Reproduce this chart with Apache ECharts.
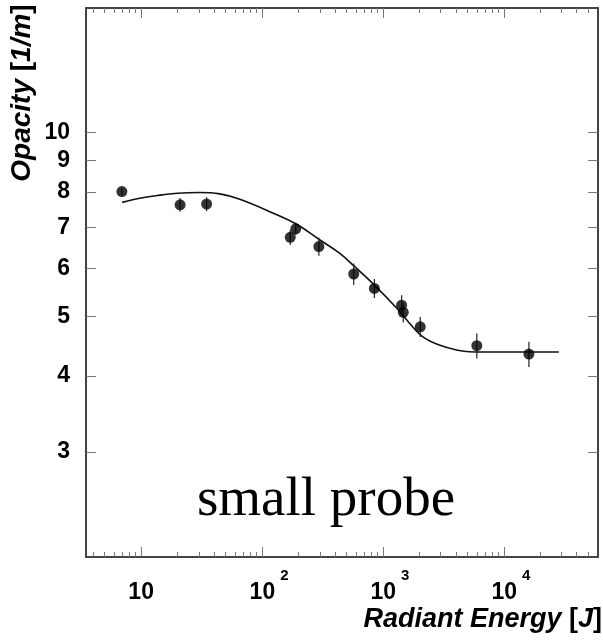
<!DOCTYPE html>
<html>
<head>
<meta charset="utf-8">
<script src="https://cdn.jsdelivr.net/npm/echarts@6/dist/echarts.min.js"></script>
<style>html,body{margin:0;padding:0;background:#fff}#c{width:603px;height:642px}</style>
</head>
<body>
<div id="c"></div>
<script>
// ---- data ----
const energy  = [6.93, 21.0, 34.8, 171, 190, 295, 573, 849, 1426, 1472, 2032, 5970, 16100];
const opacity = [8.01, 7.62, 7.64, 6.74, 6.96, 6.51, 5.87, 5.56, 5.22, 5.08, 4.81, 4.48, 4.34];
const opacityErr = [0.10, 0.20, 0.20, 0.19, 0.16, 0.22, 0.24, 0.20, 0.20, 0.19, 0.18, 0.21, 0.205];
const fitEnergy  = [6.97, 10, 14.9, 20, 30.1, 44.8, 65.5, 122.5, 193, 299, 437, 581, 849, 1290, 1651, 2112, 2917, 4265, 5155, 9111, 28470];
const fitOpacity = [7.69, 7.82, 7.91, 7.96, 7.98, 7.94, 7.78, 7.39, 7.08, 6.68, 6.35, 6.04, 5.63, 5.17, 4.88, 4.64, 4.49, 4.40, 4.38, 4.375, 4.375];
const xMajorTicks = [10, 100, 1000, 10000];
const xMinorTicks = [4,5,6,7,8,9, 20,30,40,50,60,70,80,90, 200,300,400,500,600,700,800,900,
                     2000,3000,4000,5000,6000,7000,8000,9000, 20000,30000,40000,50000];
const yTicks = [3, 4, 5, 6, 7, 8, 9, 10];
const xRange = [3.5, 60000];
const yRange = [2.02, 16];

const L = Math.log10;
const xMin = L(xRange[0]), xMax = L(xRange[1]);
const yMin = L(yRange[0]), yMax = L(yRange[1]);
const FONT = 'Liberation Sans';
const axisCol = '#444';
const tickCol = '#777';

function xAxisBase(extra) {
  return Object.assign({
    type: 'value', min: xMin, max: xMax, splitLine: {show: false},
    axisLine: {show: true, onZero: false, lineStyle: {color: axisCol, width: 2}},
    axisTick: {show: false}, axisLabel: {show: false}
  }, extra);
}
function yAxisBase(extra) {
  return Object.assign({
    type: 'value', min: yMin, max: yMax, splitLine: {show: false},
    axisLine: {show: true, onZero: false, lineStyle: {color: axisCol, width: 2}},
    axisTick: {show: false}, axisLabel: {show: false}
  }, extra);
}
const majX = xMajorTicks.map(L), minX = xMinorTicks.map(L), yT = yTicks.map(L);

const chart = echarts.init(document.getElementById('c'), null, {renderer: 'canvas'});
chart.setOption({
  animation: false,
  backgroundColor: '#fff',
  grid: {left: 86, right: 5, top: 8, bottom: 85, containLabel: false, outerBoundsMode: 'none'},
  xAxis: [
    xAxisBase({position: 'bottom', offset: 0,
      axisTick: {show: true, inside: true, length: 10, customValues: majX, lineStyle: {color: tickCol, width: 1}},
      axisLabel: {show: true, customValues: majX, margin: 11,
        formatter: function (v) {
          const e = Math.round(v);
          return e === 1 ? '{p|10}' : '{b|10}{s|' + e + '}';
        },
        rich: {
          p: {fontFamily: FONT, fontWeight: 'bold', fontSize: 23, color: '#000', lineHeight: 36, verticalAlign: 'bottom'},
          b: {fontFamily: FONT, fontWeight: 'bold', fontSize: 23, color: '#000', lineHeight: 36, verticalAlign: 'bottom', padding: [0, 0, 0, 14]},
          s: {fontFamily: FONT, fontWeight: 'bold', fontSize: 15, color: '#000', lineHeight: 15, verticalAlign: 'top', padding: [0, 0, 0, 5]}
        }
      }
    }),
    xAxisBase({position: 'bottom', offset: 0, axisLine: {show: false},
      axisTick: {show: true, inside: true, length: 5, customValues: minX, lineStyle: {color: tickCol, width: 1}}
    }),
    xAxisBase({position: 'top', offset: 0,
      axisTick: {show: true, inside: true, length: 10, customValues: majX, lineStyle: {color: tickCol, width: 1}}
    }),
    xAxisBase({position: 'top', offset: 0, axisLine: {show: false},
      axisTick: {show: true, inside: true, length: 5, customValues: minX, lineStyle: {color: tickCol, width: 1}}
    })
  ],
  yAxis: [
    yAxisBase({position: 'left', offset: 0,
      axisTick: {show: true, inside: true, length: 10, customValues: yT, lineStyle: {color: tickCol, width: 1}},
      axisLabel: {show: true, customValues: yT, margin: 16,
        fontFamily: FONT, fontWeight: 'bold', fontSize: 23, color: '#000',
        formatter: function (v) { return String(Math.round(Math.pow(10, v))); }
      }
    }),
    yAxisBase({position: 'right', offset: 0,
      axisTick: {show: true, inside: true, length: 10, customValues: yT, lineStyle: {color: tickCol, width: 1}}
    })
  ],
  series: [
    {
      type: 'line', xAxisIndex: 0, yAxisIndex: 0, smooth: 0.4, symbol: 'none',
      lineStyle: {color: '#111', width: 1.6},
      data: fitEnergy.map((e, i) => [L(e), L(fitOpacity[i])]),
      z: 2
    },
    {
      type: 'custom', xAxisIndex: 0, yAxisIndex: 0,
      data: energy.map((e, i) => [L(e), L(opacity[i] - opacityErr[i]), L(opacity[i] + opacityErr[i])]),
      renderItem: function (params, api) {
        const a = api.coord([api.value(0), api.value(1)]);
        const b = api.coord([api.value(0), api.value(2)]);
        return {type: 'line', shape: {x1: a[0], y1: a[1], x2: b[0], y2: b[1]},
                style: {stroke: '#222', lineWidth: 1.2}};
      },
      z: 3
    },
    {
      type: 'scatter', xAxisIndex: 0, yAxisIndex: 0, symbol: 'circle', symbolSize: 11,
      itemStyle: {color: '#000'},
      data: energy.map((e, i) => [L(e), L(opacity[i])]),
      z: 4
    }
  ],
  graphic: [
    {type: 'text', x: 326, y: 501, z: 10,
      style: {text: 'small probe', font: '55px "Liberation Serif"', fill: '#000', textAlign: 'center', textVerticalAlign: 'middle'}},
    {type: 'text', x: 602, y: 620, z: 10,
      style: {text: '{i|Radiant Energy }{n|[}{i|J}{n|]}', fill: '#000', textAlign: 'right', textVerticalAlign: 'middle',
        rich: {
          i: {fontFamily: FONT, fontWeight: 'bold', fontStyle: 'italic', fontSize: 27, fill: '#000'},
          n: {fontFamily: FONT, fontWeight: 'bold', fontSize: 27, fill: '#000'}
        }}},
    {type: 'text', x: 22, y: 93, rotation: Math.PI / 2, z: 10,
      style: {text: '{i|Opacity }{n|[}{i|1/m}{n|]}', fill: '#000', textAlign: 'center', textVerticalAlign: 'middle',
        rich: {
          i: {fontFamily: FONT, fontWeight: 'bold', fontStyle: 'italic', fontSize: 28, fill: '#000'},
          n: {fontFamily: FONT, fontWeight: 'bold', fontSize: 28, fill: '#000'}
        }}}
  ]
});
</script>
</body>
</html>
